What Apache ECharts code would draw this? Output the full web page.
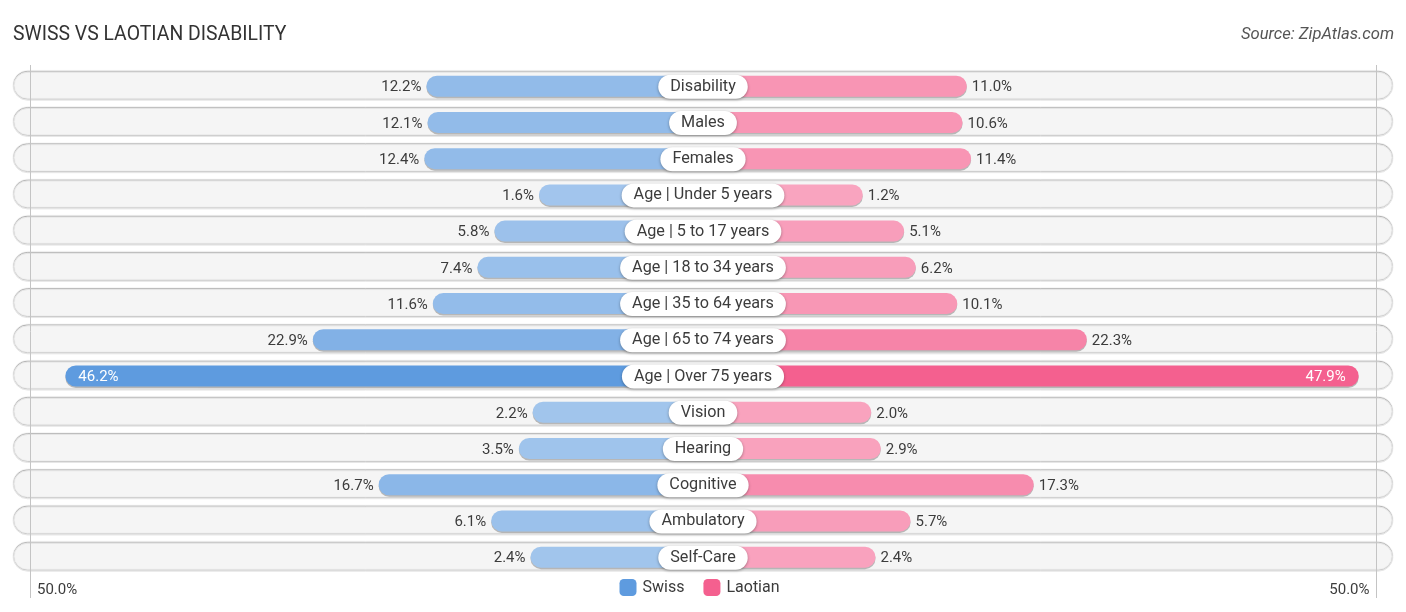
<!DOCTYPE html>
<html><head><meta charset="utf-8">
<style>html,body{margin:0;padding:0;background:#fff}#c{width:1406px;height:612px}</style>
<script src="https://cdn.jsdelivr.net/npm/echarts@6/dist/echarts.min.js"></script>
</head><body><div id="c"></div>
<script>
const categories = ["Disability","Males","Females","Age | Under 5 years","Age | 5 to 17 years","Age | 18 to 34 years","Age | 35 to 64 years","Age | 65 to 74 years","Age | Over 75 years","Vision","Hearing","Cognitive","Ambulatory","Self-Care"];
const swiss = [12.2,12.1,12.4,1.6,5.8,7.4,11.6,22.9,46.2,2.2,3.5,16.7,6.1,2.4];
const laotian = [11.0,10.6,11.4,1.2,5.1,6.2,10.1,22.3,47.9,2.0,2.9,17.3,5.7,2.4];
const axisTicks = [0,100];
const centerGap = -13.8418;
const blue = [94,155,223], pink = [244,96,143];
const FONT = 'Roboto';
const txt = '#3c3c3c';
const op = v => Math.min(1, 0.56 + v / 46 * 0.44);
const mix = (c, a) => 'rgb(' + c.map(k => Math.round(255 + (k - 255) * a)).join(',') + ')';
const rowTop = 68.08, rowH = 507.2, barW = 21;
const yCat = g => ({type:'category',gridIndex:g,data:categories,inverse:true,show:false});
const barShadow = {shadowColor:'rgba(0,0,0,0.25)',shadowBlur:0,shadowOffsetY:1.5};
const pct = p => p.value.toFixed(1) + '%';

function sideSeries(name, vals, base, axis, isLeft){
  const inside = isLeft ? 'insideLeft' : 'insideRight';
  const outside = isLeft ? 'left' : 'right';
  const radius = isLeft ? [11,0,0,11] : [0,11,11,0];
  return [{
    name, type:'bar', xAxisIndex:axis, yAxisIndex:axis, barWidth:barW, barGap:'-100%', z:2,
    itemStyle:{color:mix(base,1)},
    data: vals.map(v => ({
      value:v,
      itemStyle:{color:mix(base,op(v)),borderRadius:radius,...barShadow},
      label: v > 40
        ? {show:true,position:inside,distance:13,offset:[0,1],color:'#fff',fontFamily:FONT,fontSize:15,formatter:pct}
        : {show:true,position:outside,distance:5,offset:[0,1.5],color:txt,fontFamily:FONT,fontSize:15,formatter:pct}
    }))
  },{
    name:name+' base', type:'bar', xAxisIndex:axis, yAxisIndex:axis, barWidth:barW, barGap:'-100%', z:2, silent:true,
    data: vals.map(v => ({value:centerGap,itemStyle:{color:mix(base,op(v)),...barShadow}}))
  }];
}

const chart = echarts.init(document.getElementById('c'),null,{renderer:'canvas'});
chart.setOption({
  animation:false,
  backgroundColor:'#fff',
  title:[
    {text:'SWISS VS LAOTIAN DISABILITY',left:13,top:26,padding:0,textStyle:{fontFamily:FONT,fontSize:19.4,fontWeight:400,color:'#333'}},
    {text:'Source: ZipAtlas.com',right:12,top:26,padding:0,textStyle:{fontFamily:FONT,fontSize:16.6,fontWeight:400,fontStyle:'italic',color:'#555'}}
  ],
  legend:{
    data:['Swiss','Laotian'],left:619.5,top:579,itemWidth:17,itemHeight:17,itemGap:19,padding:0,
    icon:'roundRect',
    textStyle:{fontFamily:FONT,fontSize:16,color:txt,padding:[7,0,0,1]}
  },
  grid:[
    {left:13,width:1380,top:rowTop,height:rowH},
    {left:25,width:678,top:rowTop,height:rowH},
    {left:703,width:678,top:rowTop,height:rowH},
    {left:30.5,width:1345.5,top:65,height:533}
  ],
  xAxis:[
    {type:'value',gridIndex:0,min:0,max:1,show:false},
    {type:'value',gridIndex:1,min:centerGap,max:50,inverse:true,show:false},
    {type:'value',gridIndex:2,min:centerGap,max:50,show:false},
    {type:'value',gridIndex:3,min:axisTicks[0],max:axisTicks[1],interval:100,z:1.5,
      axisLine:{show:false},axisTick:{show:false},
      splitLine:{show:true,lineStyle:{color:'#c4c4c4',width:1}},
      axisLabel:{show:true,inside:true,margin:0,alignMinLabel:'left',alignMaxLabel:'right',padding:[0,6.5,0,6.5],fontFamily:FONT,fontSize:15,color:txt,
        formatter:v=>Math.abs(v-50).toFixed(1)+'%'}}
  ],
  yAxis:[yCat(0),yCat(1),yCat(2),{type:'value',gridIndex:3,show:false,min:0,max:1}],
  series:[
    {type:'bar',name:'track',xAxisIndex:0,yAxisIndex:0,barWidth:29,z:1,silent:true,
     data:categories.map(()=>1),
     itemStyle:{color:'#f5f5f5',borderColor:'#e6e6e6',borderWidth:1,borderRadius:14.5,shadowColor:'rgba(0,0,0,0.22)',shadowBlur:1,shadowOffsetY:-1}},
    ...sideSeries('Swiss',swiss,blue,1,true),
    ...sideSeries('Laotian',laotian,pink,2,false),
    {type:'scatter',name:'labels',xAxisIndex:0,yAxisIndex:0,z:5,symbolSize:1,silent:true,
     itemStyle:{color:'rgba(0,0,0,0)',opacity:1},
     data:categories.map(c=>[0.5,c]),
     label:{show:true,position:'inside',offset:[0,0.5],formatter:p=>p.value[1],fontFamily:FONT,fontSize:16.2,color:txt,
       backgroundColor:'#fff',borderRadius:12,padding:[5,12,3,12],lineHeight:16,
       shadowColor:'rgba(0,0,0,0.35)',shadowBlur:3,shadowOffsetY:1}}
  ]
});
</script></body></html>
